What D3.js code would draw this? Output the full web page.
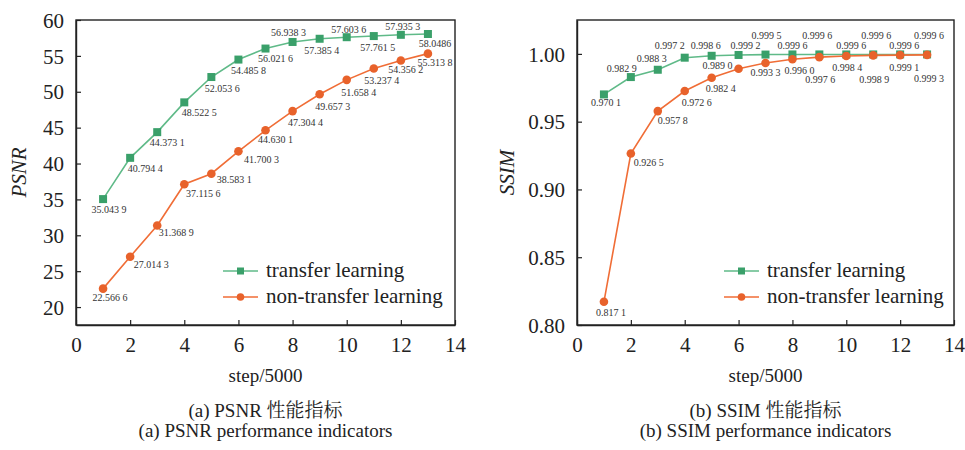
<!DOCTYPE html>
<html>
<head>
<meta charset="utf-8">
<script src="https://cdn.jsdelivr.net/npm/d3@7"></script>
<style>
  body { margin: 0; background: #fff; }
  svg { display: block; }
  svg text { font-family: "Liberation Serif", Tinos, "Times New Roman", "DejaVu Serif", serif; }
  svg text.cjk { font-family: "Liberation Serif", "Noto Serif CJK SC", "Noto Sans CJK SC", serif; }
</style>
</head>
<body>
<svg></svg>
<script>
// values
const steps = [1, 2, 3, 4, 5, 6, 7, 8, 9, 10, 11, 12, 13];
const psnrTransfer = [35.0439, 40.7944, 44.3731, 48.5225, 52.0536, 54.4858, 56.0216, 56.9383, 57.3854, 57.6036, 57.7615, 57.9353, 58.0486];
const psnrNonTransfer = [22.5666, 27.0143, 31.3689, 37.1156, 38.5831, 41.7003, 44.6301, 47.3044, 49.6573, 51.6584, 53.2374, 54.3562, 55.3138];
const ssimTransfer = [0.9701, 0.9829, 0.9883, 0.9972, 0.9986, 0.9992, 0.9995, 0.9996, 0.9996, 0.9996, 0.9996, 0.9996, 0.9996];
const ssimNonTransfer = [0.8171, 0.9265, 0.9578, 0.9726, 0.9824, 0.9890, 0.9933, 0.9960, 0.9976, 0.9984, 0.9989, 0.9991, 0.9993];

const xTicks = [0, 2, 4, 6, 8, 10, 12, 14];
const psnrTicks = [20, 25, 30, 35, 40, 45, 50, 55, 60];
const ssimTicks = [0.80, 0.85, 0.90, 0.95, 1.00];
const seriesNames = ['transfer learning', 'non-transfer learning'];

// label nudges (px, relative to each point) so the value labels sit like the original
const psnrTransferNudge = [[6, 10], [15, 11], [10, 10], [15, 10], [11, 11], [10, 11], [10, 10], [-4, -9], [2, 12], [2, -8], [4, 11], [2, -8], [7, 9]];
const psnrNonTransferNudge = [[7, 9], [21, 8], [19, 7], [19, 9], [23, 6], [23, 8], [10, 9], [13, 11], [13, 12], [12, 13], [8, 12], [5, 9], [7, 9]];
const ssimTransferNudge = [[2, 8], [-9, -9], [-6, -11], [-15, -12], [-6, -10], [7, -9], [1, -19], [0, -9], [-2, -19], [5, -9], [3, -19], [4, -9], [2, -19]];
const ssimNonTransferNudge = [[7, 11], [18, 9], [15, 9], [12, 11], [9, 11], [-21, -3], [0, 10], [7, 11], [1, 22], [1, 11], [1, 24], [4, 12], [2, 24]];

const WIDTH = 965;
const HEIGHT = 450;
const TOP = 20;
const BOTTOM = 325;

const GREEN_LINE = '#5fba88';
const GREEN_MARK = '#3aa06a';
const ORANGE_LINE = '#f06d36';
const ORANGE_MARK = '#e8622b';

const svg = d3.select('svg').
attr('width', WIDTH).
attr('height', HEIGHT);

// 4 decimals, split like "35.043 9"
const fmtLabel = (v, plain) => {
  const s = v.toFixed(4);
  return plain ? s : s.slice(0, -1) + ' ' + s.slice(-1);
};

function drawPanel(cfg) {
  const xScale = d3.scaleLinear().domain([0, 14]).range([cfg.left, cfg.right]);
  const yScale = d3.scaleLinear().domain(cfg.yDomain).range([BOTTOM, TOP]);

  const g = svg.append('g');

  // frame
  g.append('rect').
  attr('x', cfg.left).
  attr('y', TOP).
  attr('width', cfg.right - cfg.left).
  attr('height', BOTTOM - TOP).
  attr('fill', 'none').
  attr('stroke', '#222').
  attr('stroke-width', 1.4);

  const xAxis = d3.axisBottom(xScale).
  tickValues(xTicks).
  tickSizeInner(-5).
  tickSizeOuter(0).
  tickPadding(12).
  tickFormat(d3.format('d'));

  const xG = g.append('g').
  attr('transform', `translate(0,${BOTTOM})`).
  call(xAxis);

  const yAxis = d3.axisLeft(yScale).
  tickValues(cfg.yTicks).
  tickSizeInner(-5).
  tickSizeOuter(0).
  tickPadding(12).
  tickFormat(cfg.yFormat);

  const yG = g.append('g').
  attr('transform', `translate(${cfg.left},0)`).
  call(yAxis);

  [xG, yG].forEach(ax => {
    ax.attr('font-family', null);
    ax.select('.domain').attr('stroke', '#222').attr('stroke-width', 1.4);
    ax.selectAll('.tick line').attr('stroke', '#222').attr('stroke-width', 1.2);
    ax.selectAll('.tick text').
    attr('font-size', 21).
    attr('fill', '#222');
  });
  yG.selectAll('.tick text').attr('dy', '0.34em');

  // y title
  g.append('text').
  attr('transform', `translate(${cfg.yTitleX},${(TOP + BOTTOM) / 2}) rotate(-90)`).
  attr('text-anchor', 'middle').
  attr('dy', '0.35em').
  attr('font-style', 'italic').
  attr('font-size', 21).
  attr('fill', '#222').
  text(cfg.yTitle);

  const mid = (cfg.left + cfg.right) / 2;

  g.append('text').
  attr('x', mid).
  attr('y', 382).
  attr('text-anchor', 'middle').
  attr('font-size', 19).
  attr('fill', '#222').
  text('step/5000');

  g.append('text').
  attr('class', 'cjk').
  attr('x', mid).
  attr('y', 417).
  attr('text-anchor', 'middle').
  attr('font-size', 19).
  attr('fill', '#222').
  text(cfg.caption1);

  g.append('text').
  attr('x', mid).
  attr('y', 437).
  attr('text-anchor', 'middle').
  attr('font-size', 19).
  attr('fill', '#222').
  text(cfg.caption2);

  const line = d3.line().
  x((d, i) => xScale(steps[i])).
  y(d => yScale(d));

  // transfer learning (green squares)
  g.append('path').
  datum(cfg.transfer).
  attr('d', line).
  attr('fill', 'none').
  attr('stroke', GREEN_LINE).
  attr('stroke-width', 1.6);

  g.selectAll('rect.sq').
  data(cfg.transfer).
  join('rect').
  attr('class', 'sq').
  attr('x', (d, i) => xScale(steps[i]) - 4).
  attr('y', d => yScale(d) - 4).
  attr('width', 8).
  attr('height', 8).
  attr('fill', GREEN_MARK);

  // non-transfer learning (orange circles)
  g.append('path').
  datum(cfg.nonTransfer).
  attr('d', line).
  attr('fill', 'none').
  attr('stroke', ORANGE_LINE).
  attr('stroke-width', 1.6);

  g.selectAll('circle.dot').
  data(cfg.nonTransfer).
  join('circle').
  attr('class', 'dot').
  attr('cx', (d, i) => xScale(steps[i])).
  attr('cy', d => yScale(d)).
  attr('r', 4.3).
  attr('fill', ORANGE_MARK);

  // value labels
  const labelG = g.append('g').
  attr('font-size', 10).
  attr('fill', '#333').
  attr('text-anchor', 'middle');

  const addLabels = (vals, nudge, plainIdx) => {
    labelG.selectAll(null).
    data(vals).
    join('text').
    attr('x', (d, i) => xScale(steps[i]) + nudge[i][0]).
    attr('y', (d, i) => yScale(d) + nudge[i][1]).
    attr('dy', '0.35em').
    text((d, i) => fmtLabel(d, plainIdx.includes(i)));
  };
  addLabels(cfg.transfer, cfg.transferNudge, cfg.plainTransfer);
  addLabels(cfg.nonTransfer, cfg.nonTransferNudge, []);

  // legend
  const legendG = g.append('g').
  attr('transform', `translate(${cfg.left + 147},${BOTTOM - 54})`);

  const items = legendG.selectAll('g').
  data(seriesNames).
  join('g').
  attr('transform', (d, i) => `translate(0,${i * 26})`);

  items.append('line').
  attr('x1', 0).
  attr('x2', 35).
  attr('stroke', (d, i) => i === 0 ? GREEN_LINE : ORANGE_LINE).
  attr('stroke-width', 1.6);

  items.filter((d, i) => i === 0).append('rect').
  attr('x', 14).
  attr('y', -3.5).
  attr('width', 7).
  attr('height', 7).
  attr('fill', GREEN_MARK);

  items.filter((d, i) => i === 1).append('circle').
  attr('cx', 17.5).
  attr('r', 3.8).
  attr('fill', ORANGE_MARK);

  items.append('text').
  attr('x', 43).
  attr('dy', '0.3em').
  attr('font-size', 21).
  attr('fill', '#222').
  text(d => d);
}

drawPanel({
  left: 76,
  right: 455,
  yDomain: [17.5, 60],
  yTicks: psnrTicks,
  yFormat: d3.format('d'),
  yTitle: 'PSNR',
  yTitleX: 19,
  caption1: '(a) PSNR 性能指标',
  caption2: '(a) PSNR performance indicators',
  transfer: psnrTransfer,
  nonTransfer: psnrNonTransfer,
  transferNudge: psnrTransferNudge,
  nonTransferNudge: psnrNonTransferNudge,
  plainTransfer: [12]
});

drawPanel({
  left: 577,
  right: 954,
  yDomain: [0.80, 1.025],
  yTicks: ssimTicks,
  yFormat: d3.format('.2f'),
  yTitle: 'SSIM',
  yTitleX: 507,
  caption1: '(b) SSIM 性能指标',
  caption2: '(b) SSIM performance indicators',
  transfer: ssimTransfer,
  nonTransfer: ssimNonTransfer,
  transferNudge: ssimTransferNudge,
  nonTransferNudge: ssimNonTransferNudge,
  plainTransfer: []
});
</script>
</body>
</html>
